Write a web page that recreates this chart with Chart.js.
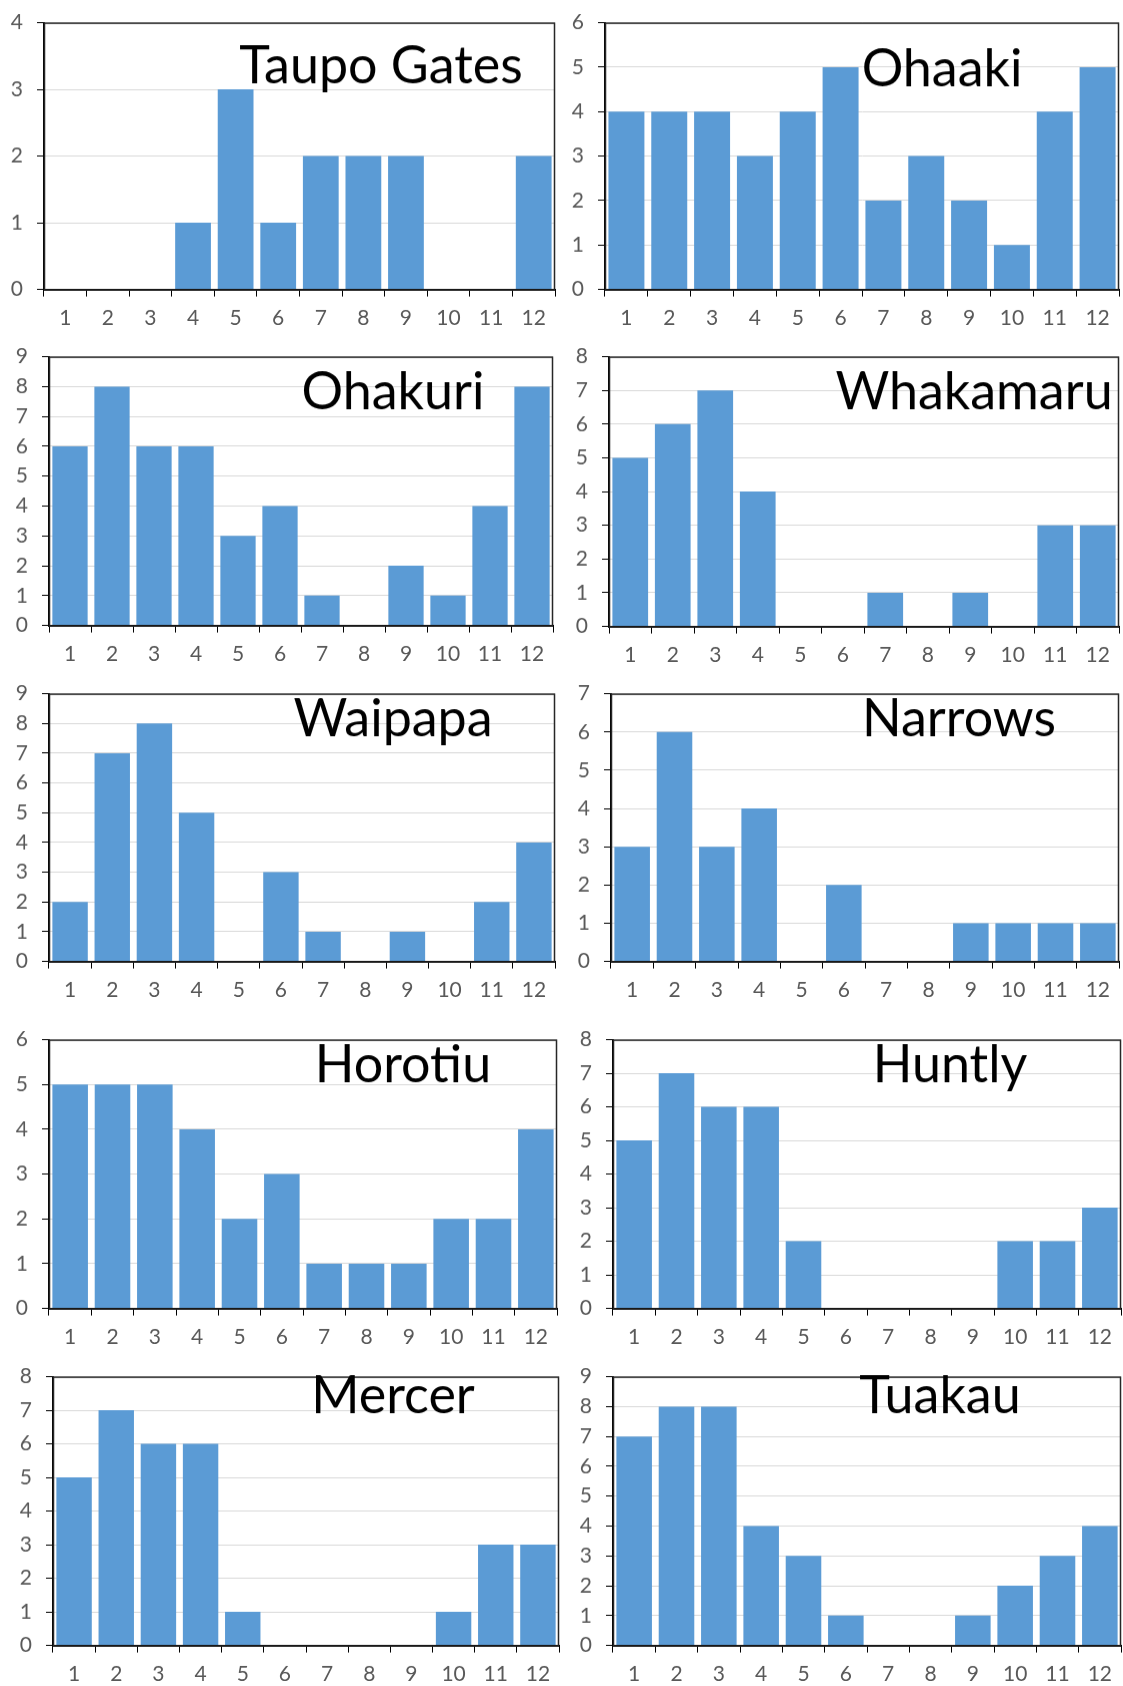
<!DOCTYPE html>
<html>
<head>
<meta charset="utf-8">
<script src="https://cdn.jsdelivr.net/npm/chart.js@4.4.1/dist/chart.umd.min.js"></script>
<style>
  html, body { margin: 0; padding: 0; background: #fff; }
  body { width: 1123px; height: 1686px; position: relative; overflow: hidden; }
  canvas { position: absolute; }
</style>
</head>
<body>
<script>
const months = ['1', '2', '3', '4', '5', '6', '7', '8', '9', '10', '11', '12'];

const taupoGates = [0, 0, 0, 1, 3, 1, 2, 2, 2, 0, 0, 2];
const ohaaki     = [4, 4, 4, 3, 4, 5, 2, 3, 2, 1, 4, 5];
const ohakuri    = [6, 8, 6, 6, 3, 4, 1, 0, 2, 1, 4, 8];
const whakamaru  = [5, 6, 7, 4, 0, 0, 1, 0, 1, 0, 3, 3];
const waipapa    = [2, 7, 8, 5, 0, 3, 1, 0, 1, 0, 2, 4];
const narrows    = [3, 6, 3, 4, 0, 2, 0, 0, 1, 1, 1, 1];
const horotiu    = [5, 5, 5, 4, 2, 3, 1, 1, 1, 2, 2, 4];
const huntly     = [5, 7, 6, 6, 2, 0, 0, 0, 0, 2, 2, 3];
const mercer     = [5, 7, 6, 6, 1, 0, 0, 0, 0, 1, 3, 3];
const tuakau     = [7, 8, 8, 4, 3, 1, 0, 0, 1, 2, 3, 4];

const titles = ['Taupo Gates', 'Ohaaki', 'Ohakuri', 'Whakamaru', 'Waipapa',
                'Narrows', 'Horotiu', 'Huntly', 'Mercer', 'Tuakau'];
const series = [taupoGates, ohaaki, ohakuri, whakamaru, waipapa,
                narrows, horotiu, huntly, mercer, tuakau];
const yMaxes = [4, 6, 9, 8, 9, 7, 6, 8, 8, 9];

// plot box on the page: left, top, right, bottom ; title centre x, baseline y
const boxes = [
  [44, 23, 555, 289, 381, 83],
  [605, 23, 1119, 289, 942, 86],
  [49, 357, 553, 625, 393, 409],
  [609, 357, 1119, 626, 974, 409],
  [49, 694, 555, 961, 393, 736],
  [611, 694, 1119, 961, 959, 736],
  [49, 1040, 557, 1308, 403, 1082],
  [613, 1040, 1121, 1308, 950, 1082],
  [53, 1377, 559, 1645, 393, 1413],
  [613, 1377, 1121, 1645, 940, 1413],
];

const Y_W = 50, X_H = 48, PAD_T = 4, PAD_R = 3;

// frame round the plot + big name inside it
const framePlugin = {
  id: 'frame',
  afterDraw(chart, args, opts) {
    const { ctx, chartArea: a } = chart;
    ctx.save();
    ctx.strokeStyle = '#262626';
    ctx.lineWidth = 1.5;
    ctx.strokeRect(a.left + 0.5, a.top + 0.5, a.right - a.left - 1, a.bottom - a.top);
    ctx.fillStyle = '#000';
    ctx.font = '52px Lato';
    ctx.textAlign = 'center';
    ctx.textBaseline = 'alphabetic';
    const c = chart.canvas;
    ctx.fillText(opts.text, opts.x - parseFloat(c.style.left), opts.y - parseFloat(c.style.top));
    ctx.restore();
  }
};

const tickFont = { family: 'Lato', size: 21 };

series.forEach((data, i) => {
  const [L, T, R, B, tx, ty] = boxes[i];
  const cv = document.createElement('canvas');
  cv.width = (R - L) + Y_W + PAD_R;
  cv.height = (B - T) + PAD_T + X_H + 12;
  cv.style.left = (L - Y_W) + 'px';
  cv.style.top = (T - PAD_T) + 'px';
  document.body.appendChild(cv);

  const chart = new Chart(cv, {
    type: 'bar',
    data: {
      labels: months,
      datasets: [{
        data: data,
        backgroundColor: '#5b9bd5',
        borderWidth: 0,
        barPercentage: 0.84,
        categoryPercentage: 1.0,
      }],
    },
    options: {
      responsive: false,
      maintainAspectRatio: false,
      animation: false,
      layout: { padding: { top: PAD_T, right: PAD_R, left: 0, bottom: 0 } },
      plugins: {
        legend: { display: false },
        tooltip: { enabled: false },
        frame: { text: titles[i], x: tx, y: ty },
      },
      scales: {
        x: {
          grid: { drawOnChartArea: false, drawTicks: true, tickLength: 7, tickColor: '#000', offset: true },
          border: { color: '#000', width: 2 },
          ticks: { color: '#595959', font: tickFont, padding: 9, autoSkip: false, maxRotation: 0 },
          afterFit(scale) { scale.height = X_H; },
        },
        y: {
          min: 0,
          max: yMaxes[i],
          grid: { color: '#d9d9d9', lineWidth: 1, tickLength: 7, tickColor: '#000' },
          border: { color: '#000', width: 2 },
          ticks: { stepSize: 1, color: '#595959', font: tickFont, padding: 14 },
          afterFit(scale) { scale.width = Y_W; },
        },
      },
    },
    plugins: [framePlugin],
  });

  // line the plot area up with the box on the page
  const a = chart.chartArea;
  const h = (B - T) + a.top + (cv.height - a.bottom);
  chart.resize(cv.width, h);
  const b = chart.chartArea;
  cv.style.left = (L - b.left) + 'px';
  cv.style.top = (T - b.top) + 'px';
  chart.draw();
});
</script>
</body>
</html>
